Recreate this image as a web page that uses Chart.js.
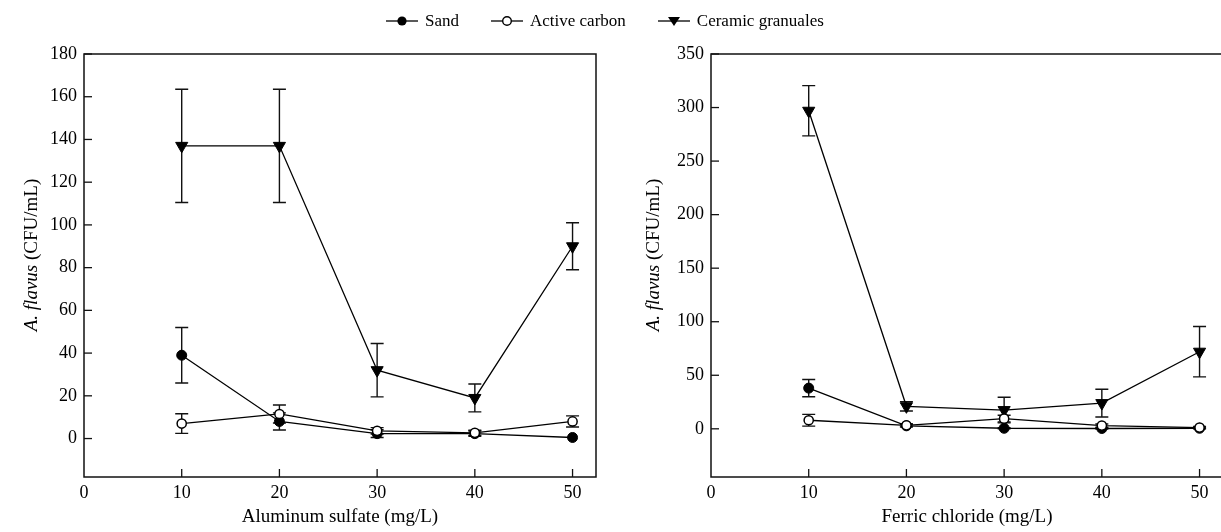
<!DOCTYPE html>
<html><head><meta charset="utf-8">
<script src="https://cdn.jsdelivr.net/npm/chart.js@4.4.1/dist/chart.umd.min.js"></script>
<style>
html,body{margin:0;padding:0;background:#fff;overflow:hidden;width:1221px;height:532px;position:relative;}
canvas{position:absolute;top:0;}
#c1{left:0;}
#c2{left:627px;}
#legend{position:absolute;top:10px;left:386px;height:22px;display:flex;align-items:center;font-family:'Liberation Serif',serif;font-size:17px;color:#000;white-space:nowrap;}
#legend .item{display:flex;align-items:center;margin-right:32px;}
#legend svg{margin-right:7px;}
</style></head>
<body>
<canvas id="c1" width="612" height="532"></canvas>
<canvas id="c2" width="612" height="532"></canvas>
<div id="legend"></div>
<script>
// ---- data ----
const doses = [10, 20, 30, 40, 50];
const xTickValues = [0, 10, 20, 30, 40, 50];
const seriesNames = ['Sand', 'Active carbon', 'Ceramic granuales'];

const alSand       = [39, 8, 2.3, 2.3, 0.5];
const alSandErr    = [13, 4, 1.8, 1.2, 0];
const alCarbon     = [7, 11.5, 3.6, 2.7, 8];
const alCarbonErr  = [4.6, 4.2, 1.5, 1.2, 2.6];
const alCeramic    = [137, 137, 32, 19, 90];
const alCeramicErr = [26.5, 26.5, 12.5, 6.5, 11];
const alYTicks     = [0, 20, 40, 60, 80, 100, 120, 140, 160, 180];

const feSand       = [38, 2.8, 0.5, 0.3, 0.5];
const feSandErr    = [8, 1, 0.5, 0.5, 0.5];
const feCarbon     = [8, 3.3, 9.5, 3, 1.2];
const feCarbonErr  = [5.5, 1.5, 3.2, 1.5, 1];
const feCeramic    = [297, 21, 17.5, 24, 72];
const feCeramicErr = [23.5, 4.3, 12, 13, 23.5];
const feYTicks     = [0, 50, 100, 150, 200, 250, 300, 350];

const FONT = "'Liberation Serif', serif";
const INK = '#111';

// ---- legend ----
function legendIcon(kind){
  let m = '';
  if (kind === 0) m = '<circle cx="16" cy="7" r="4.6" fill="#000"/>';
  if (kind === 1) m = '<circle cx="16" cy="7" r="4.3" fill="#fff" stroke="#000" stroke-width="1.4"/>';
  if (kind === 2) m = '<polygon points="10,3 22,3 16,12" fill="#000"/>';
  return '<svg width="32" height="14"><line x1="0" y1="7" x2="32" y2="7" stroke="#000" stroke-width="1.3"/>' + m + '</svg>';
}
document.getElementById('legend').innerHTML = seriesNames.map((n,i)=>
  '<span class="item">' + legendIcon(i) + '<span>' + n + '</span></span>').join('');

// ---- plugins ----
const decor = {
  id: 'decor',
  beforeDatasetsDraw(chart){
    const {ctx, scales:{x, y}} = chart;
    ctx.save();
    ctx.strokeStyle = INK; ctx.lineWidth = 1.4;
    chart.data.datasets.forEach(ds=>{
      ds.data.forEach((pt,i)=>{
        const e = ds.errors[i]; if (!e) return;
        const v = pt.y;
        const px = x.getPixelForValue(pt.x);
        const y1 = y.getPixelForValue(v + e), y2 = y.getPixelForValue(v - e);
        ctx.beginPath();
        ctx.moveTo(px, y1); ctx.lineTo(px, y2);
        ctx.moveTo(px-6.5, y1); ctx.lineTo(px+6.5, y1);
        ctx.moveTo(px-6.5, y2); ctx.lineTo(px+6.5, y2);
        ctx.stroke();
      });
    });
    ctx.restore();
  },
  afterDraw(chart){
    const {ctx, chartArea:a, scales:{x, y}} = chart;
    const o = chart.options.plugins.decor;
    ctx.save();
    ctx.strokeStyle = INK; ctx.lineWidth = 1.5;
    ctx.strokeRect(a.left, a.top, a.right - a.left, a.bottom - a.top);
    ctx.lineWidth = 1.3;
    y.ticks.forEach(t=>{
      const py = y.getPixelForValue(t.value);
      ctx.beginPath(); ctx.moveTo(a.left, py); ctx.lineTo(a.left + 8, py); ctx.stroke();
    });
    x.ticks.forEach(t=>{
      if (t.value === 0) return;
      const px = x.getPixelForValue(t.value);
      ctx.beginPath(); ctx.moveTo(px, a.bottom); ctx.lineTo(px, a.bottom - 8); ctx.stroke();
    });
    // x title
    ctx.fillStyle = '#000';
    ctx.font = '19px ' + FONT;
    ctx.textAlign = 'center'; ctx.textBaseline = 'middle';
    ctx.fillText(o.xTitle, (a.left + a.right)/2, o.xTitleY);
    // y title (mixed italic)
    const it = 'italic 19px ' + FONT, rg = '19px ' + FONT;
    ctx.font = it; const w1 = ctx.measureText(o.yItalic).width;
    ctx.font = rg; const w2 = ctx.measureText(o.yRest).width;
    ctx.translate(o.yTitleX, o.yTitleY);
    ctx.rotate(-Math.PI/2);
    ctx.textAlign = 'left';
    let sx = -(w1 + w2)/2;
    ctx.font = it; ctx.fillText(o.yItalic, sx, 0);
    ctx.font = rg; ctx.fillText(o.yRest, sx + w1, 0);
    ctx.restore();
  }
};

function makeChart(id, sand, sandErr, carbon, carbonErr, ceramic, ceramicErr, yMin, yMax, yTicks, xTitle, yTitleX){
  const line = {borderColor:'#000', borderWidth:1.3, tension:0, fill:false};
  return new Chart(document.getElementById(id), {
    type: 'line',
    data: {
      labels: doses,
      datasets: [
        Object.assign({label: seriesNames[1], data: carbon.map((v,i)=>({x:doses[i], y:v})), errors: carbonErr,
          pointStyle:'circle', pointRadius:4.6, pointBackgroundColor:'#fff', pointBorderColor:'#000', pointBorderWidth:1.5}, line),
        Object.assign({label: seriesNames[0], data: sand.map((v,i)=>({x:doses[i], y:v})), errors: sandErr,
          pointStyle:'circle', pointRadius:5, pointBackgroundColor:'#000', pointBorderColor:'#000', pointBorderWidth:1}, line),
        Object.assign({label: seriesNames[2], data: ceramic.map((v,i)=>({x:doses[i], y:v})), errors: ceramicErr,
          pointStyle:'triangle', pointRotation:180, pointRadius:7, pointBackgroundColor:'#000', pointBorderColor:'#000', pointBorderWidth:1}, line)
      ]
    },
    options: {
      responsive: false, animation: false,
      layout: {padding: {top: 54, right: 16, left: 0, bottom: 0}},
      plugins: {
        legend: {display:false}, tooltip: {enabled:false},
        decor: {xTitle: xTitle, xTitleY: 517, yItalic: 'A. flavus', yRest: ' (CFU/mL)', yTitleX: yTitleX, yTitleY: 255}
      },
      scales: {
        x: {type:'linear', min:0, max:52.4,
            afterBuildTicks: s => { s.ticks = xTickValues.map(v=>({value:v})); },
            afterFit: s => { s.height = 55; },
            grid:{display:false, drawTicks:false}, border:{display:false},
            ticks:{color:'#000', padding:5, font:{family:FONT, size:18}, maxRotation:0}},
        y: {type:'linear', min:yMin, max:yMax,
            afterBuildTicks: s => { s.ticks = yTicks.map(v=>({value:v})); },
            afterFit: s => { s.width = 84; },
            grid:{display:false, drawTicks:false}, border:{display:false},
            ticks:{color:'#000', padding:7, font:{family:FONT, size:18}}}
      }
    },
    plugins: [decor]
  });
}

makeChart('c1', alSand, alSandErr, alCarbon, alCarbonErr, alCeramic, alCeramicErr, -18, 180, alYTicks, 'Aluminum sulfate (mg/L)', 32);
makeChart('c2', feSand, feSandErr, feCarbon, feCarbonErr, feCeramic, feCeramicErr, -45, 350, feYTicks, 'Ferric chloride (mg/L)', 27);
</script>
</body></html>
